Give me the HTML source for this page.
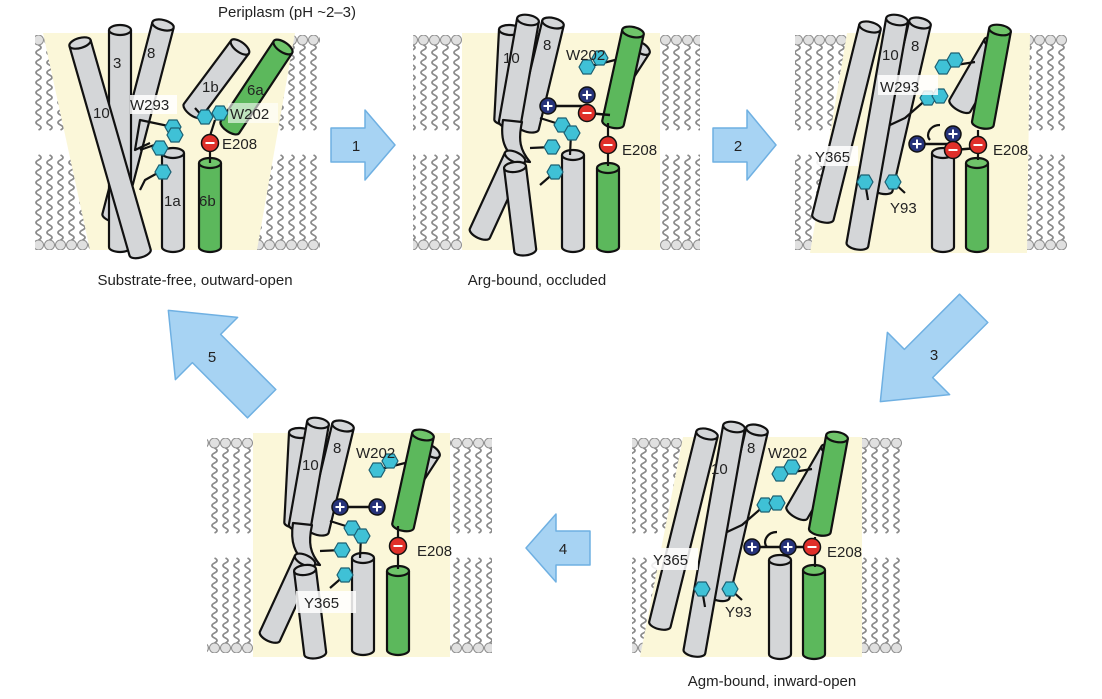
<!DOCTYPE html>
<html><head><meta charset="utf-8"><style>
html,body{margin:0;padding:0;background:#fff}
svg{display:block}
text{font-family:"Liberation Sans",sans-serif;fill:#222}
</style></head><body>
<svg width="1102" height="699" viewBox="0 0 1102 699" xmlns="http://www.w3.org/2000/svg">
<defs>
<g id="lipT"><circle cx="5.5" cy="5" r="5" fill="#e0e0e0" stroke="#8f8f8f"/><path d="M5.5,10 q5,2.5 0,5 t0,5 t0,5 t0,5 t0,5 t0,5 t0,5 t0,5 t0,5 t0,5 t0,5 t0,5 t0,5 t0,5 t0,5 t0,5 t0,5" fill="none" stroke="#8a8a8a" stroke-width="1.8"/></g>
<g id="lipB"><circle cx="5.5" cy="95" r="5" fill="#e0e0e0" stroke="#8f8f8f"/><path d="M5.5,90 q5,-2.5 0,-5 t0,-5 t0,-5 t0,-5 t0,-5 t0,-5 t0,-5 t0,-5 t0,-5 t0,-5 t0,-5 t0,-5 t0,-5 t0,-5 t0,-5 t0,-5 t0,-5" fill="none" stroke="#8a8a8a" stroke-width="1.8"/></g>
<pattern id="ltA" patternUnits="userSpaceOnUse" x="0" y="35" width="11" height="100"><use href="#lipT"/></pattern>
<pattern id="lbA" patternUnits="userSpaceOnUse" x="0" y="150" width="11" height="100"><use href="#lipB"/></pattern>
<pattern id="ltB" patternUnits="userSpaceOnUse" x="0" y="438" width="11" height="100"><use href="#lipT"/></pattern>
<pattern id="lbB" patternUnits="userSpaceOnUse" x="0" y="553" width="11" height="100"><use href="#lipB"/></pattern>
<polygon id="hx" points="8,0 4,7 -4,7 -8,0 -4,-7 4,-7" fill="#3fc1d6" stroke="#1b5f72" stroke-width="1.2"/>
<g id="pl"><circle r="8" fill="#26337a" stroke="#111" stroke-width="1.5"/><path d="M-4.5,0H4.5M0,-4.5V4.5" stroke="#fff" stroke-width="2"/></g>
<g id="mi"><circle r="8.5" fill="#e0302a" stroke="#111" stroke-width="1.5"/><path d="M-4.5,0H4.5" stroke="#fff" stroke-width="2"/></g>
<g id="cyl2" stroke="#111" stroke-width="2.2" stroke-linejoin="round">
 <g transform="translate(641,48) rotate(33)"><path d="M-10,0V35A10,5 0 0 0 10,35V0" fill="#d4d6d8"/><ellipse rx="10" ry="5" fill="#d4d6d8"/></g>
 <g transform="translate(510,30) rotate(3)"><path d="M-11,0V90A11,5 0 0 0 11,90V0" fill="#d4d6d8"/><ellipse rx="11" ry="5" fill="#d4d6d8"/></g>
 <g transform="translate(553,23) rotate(13.5)"><path d="M-11,0V107A11,5 0 0 0 11,107V0" fill="#d4d6d8"/><ellipse rx="11" ry="5" fill="#d4d6d8"/></g>
 <g transform="translate(528,20) rotate(10)"><path d="M-11,0V105A11,5 0 0 0 11,105V0" fill="#d4d6d8"/><ellipse rx="11" ry="5" fill="#d4d6d8"/></g>
 <path d="M503,120 C500,140 505,150 515,160 L530,162 C520,150 518,140 522,122Z" fill="#d4d6d8"/>
 <g transform="translate(515,157) rotate(24.7)"><path d="M-11,0V84A11,5 0 0 0 11,84V0" fill="#d4d6d8"/><ellipse rx="11" ry="5" fill="#d4d6d8"/></g>
 <g transform="translate(515,167) rotate(-7)"><path d="M-11,0V84A11,5 0 0 0 11,84V0" fill="#d4d6d8"/><ellipse rx="11" ry="5" fill="#d4d6d8"/></g>
 <g transform="translate(633,32) rotate(12.4)"><path d="M-11,0V93A11,5 0 0 0 11,93V0" fill="#5cb85c"/><ellipse rx="11" ry="5" fill="#6fc46a"/></g>
 <g transform="translate(573,155)"><path d="M-11,0V92A11,5 0 0 0 11,92V0" fill="#d4d6d8"/><ellipse rx="11" ry="5" fill="#d4d6d8"/></g>
 <g transform="translate(608,168)"><path d="M-11,0V79A11,5 0 0 0 11,79V0" fill="#5cb85c"/><ellipse rx="11" ry="5" fill="#6fc46a"/></g>
 <path d="M608,146V166M608,137V123M552,147 L530,148 M555,172 L540,185 M562,125 L540,118 M587,67 L615,60 M571,133 L570,155" fill="none"/>
 <use href="#hx" x="587" y="67"/><use href="#hx" x="600" y="58"/><use href="#hx" x="562" y="125"/><use href="#hx" x="572" y="133"/><use href="#hx" x="552" y="147"/><use href="#hx" x="555" y="172"/>
</g>
<g id="cyl3" stroke="#111" stroke-width="2.2" stroke-linejoin="round">
 <g transform="translate(870,27) rotate(13.9)"><path d="M-11,0V196A11,5 0 0 0 11,196V0" fill="#d4d6d8"/><ellipse rx="11" ry="5" fill="#d4d6d8"/></g>
 <g transform="translate(920,23) rotate(13)"><path d="M-11,0V170A11,5 0 0 0 11,170V0" fill="#d4d6d8"/><ellipse rx="11" ry="5" fill="#d4d6d8"/></g>
 <g transform="translate(897,20) rotate(10)"><path d="M-11,0V228A11,5 0 0 0 11,228V0" fill="#d4d6d8"/><ellipse rx="11" ry="5" fill="#d4d6d8"/></g>
 <g transform="translate(995,45) rotate(30)"><path d="M-12,0V70A12,5 0 0 0 12,70V0" fill="#d4d6d8"/><ellipse rx="12" ry="5" fill="#d4d6d8"/></g>
 <g transform="translate(1000,30) rotate(10.4)"><path d="M-11,0V95A11,5 0 0 0 11,95V0" fill="#5cb85c"/><ellipse rx="11" ry="5" fill="#6fc46a"/></g>
 <g transform="translate(943,153)"><path d="M-11,0V94A11,5 0 0 0 11,94V0" fill="#d4d6d8"/><ellipse rx="11" ry="5" fill="#d4d6d8"/></g>
 <g transform="translate(977,163)"><path d="M-11,0V84A11,5 0 0 0 11,84V0" fill="#5cb85c"/><ellipse rx="11" ry="5" fill="#6fc46a"/></g>
 <path d="M943,67 L975,62 M928,98 L905,118 L890,125 M865,182 L868,200 M893,182 L905,193 M940,125 C930,125 925,135 930,140 M978,130V160" fill="none"/>
 <use href="#hx" x="943" y="67"/><use href="#hx" x="955" y="60"/><use href="#hx" x="928" y="98"/><use href="#hx" x="940" y="96"/><use href="#hx" x="865" y="182"/><use href="#hx" x="893" y="182"/>
</g>
</defs>

<!-- Panel 1 -->
<rect x="35" y="35" width="285" height="100" fill="url(#ltA)"/>
<rect x="35" y="150" width="285" height="100" fill="url(#lbA)"/>
<polygon points="43,33 295,33 257,250 90,250" fill="#fbf7d9"/>
<g stroke="#111" stroke-width="2.2" stroke-linejoin="round">
 <g transform="translate(163,25) rotate(14.6)"><path d="M-11,0V198A11,5 0 0 0 11,198V0" fill="#d4d6d8"/><ellipse rx="11" ry="5" fill="#d4d6d8"/></g>
 <g transform="translate(120,30)"><path d="M-11,0V217A11,5 0 0 0 11,217V0" fill="#d4d6d8"/><ellipse rx="11" ry="5" fill="#d4d6d8"/></g>
 <g transform="translate(80,43) rotate(-16)"><path d="M-11,0V218A11,5 0 0 0 11,218V0" fill="#d4d6d8"/><ellipse rx="11" ry="5" fill="#d4d6d8"/></g>
 <g transform="translate(240,47) rotate(36.7)"><path d="M-11,0V79A11,5 0 0 0 11,79V0" fill="#d4d6d8"/><ellipse rx="11" ry="5" fill="#d4d6d8"/></g>
 <g transform="translate(283,47) rotate(33.5)"><path d="M-11,0V96A11,5 0 0 0 11,96V0" fill="#5cb85c"/><ellipse rx="11" ry="5" fill="#6fc46a"/></g>
 <g transform="translate(173,153)"><path d="M-11,0V94A11,5 0 0 0 11,94V0" fill="#d4d6d8"/><ellipse rx="11" ry="5" fill="#d4d6d8"/></g>
 <g transform="translate(210,163)"><path d="M-11,0V84A11,5 0 0 0 11,84V0" fill="#5cb85c"/><ellipse rx="11" ry="5" fill="#6fc46a"/></g>
 <path d="M173,127 L140,120 L135,150 L150,143 M160,143 L140,150 M163,170 L145,180 L140,190 M210,150V163 M210,136 L215,120 M203,117 L195,108" fill="none"/>
</g>
<use href="#hx" x="173" y="127"/><use href="#hx" x="175" y="135"/><use href="#hx" x="160" y="148"/><use href="#hx" x="163" y="172"/><use href="#hx" x="205" y="117"/><use href="#hx" x="220" y="113"/>
<use href="#mi" x="210" y="143"/>
<rect x="130" y="95" width="47" height="19" fill="#fff" opacity="0.85"/>
<rect x="228" y="103" width="50" height="20" fill="#fff" opacity="0.6"/>
<g font-size="15">
<text x="287" y="17" text-anchor="middle" font-size="15">Periplasm (pH ~2–3)</text>
<text x="113" y="68">3</text><text x="147" y="58">8</text><text x="93" y="118">10</text>
<text x="202" y="92">1b</text><text x="247" y="95">6a</text>
<text x="130" y="110">W293</text><text x="230" y="119">W202</text><text x="222" y="149">E208</text>
<text x="164" y="206">1a</text><text x="199" y="206">6b</text>
<text x="195" y="285" text-anchor="middle">Substrate-free, outward-open</text>
</g>

<!-- Panel 2 -->
<rect x="413" y="35" width="50" height="100" fill="url(#ltA)"/>
<rect x="413" y="150" width="50" height="100" fill="url(#lbA)"/>
<rect x="658" y="35" width="42" height="100" fill="url(#ltA)"/>
<rect x="658" y="150" width="42" height="100" fill="url(#lbA)"/>
<rect x="462" y="33" width="198" height="217" fill="#fbf7d9"/>
<use href="#cyl2"/>
<path d="M548,106H587M587,113 L610,115" stroke="#111" stroke-width="2.5"/>
<use href="#pl" x="548" y="106"/><use href="#pl" x="587" y="95"/><use href="#mi" x="587" y="113"/><use href="#mi" x="608" y="145"/>
<g font-size="15"><text x="503" y="63">10</text><text x="543" y="50">8</text><text x="566" y="60">W202</text><text x="622" y="155">E208</text>
<text x="537" y="285" text-anchor="middle">Arg-bound, occluded</text></g>

<!-- Panel 3 -->
<rect x="795" y="35" width="55" height="100" fill="url(#ltA)"/>
<rect x="795" y="150" width="55" height="100" fill="url(#lbA)"/>
<rect x="1027" y="35" width="40" height="100" fill="url(#ltA)"/>
<rect x="1027" y="150" width="40" height="100" fill="url(#lbA)"/>
<polygon points="847,33 1030,33 1027,253 810,253" fill="#fbf7d9"/>
<use href="#cyl3"/>
<path d="M917,144H953M953,150 L978,148" stroke="#111" stroke-width="2.5"/>
<use href="#pl" x="917" y="144"/><use href="#pl" x="953" y="134"/><use href="#mi" x="953" y="150"/><use href="#mi" x="978" y="145"/>
<rect x="878" y="75" width="60" height="20" fill="#fff" opacity="0.85"/>
<rect x="812" y="146" width="46" height="20" fill="#fff" opacity="0.85"/>
<g font-size="15"><text x="882" y="60">10</text><text x="911" y="51">8</text><text x="880" y="92">W293</text>
<text x="815" y="162">Y365</text><text x="890" y="213">Y93</text><text x="993" y="155">E208</text></g>

<!-- Panel 4 -->
<rect x="207" y="438" width="46" height="100" fill="url(#ltB)"/>
<rect x="207" y="553" width="46" height="100" fill="url(#lbB)"/>
<rect x="448" y="438" width="44" height="100" fill="url(#ltB)"/>
<rect x="448" y="553" width="44" height="100" fill="url(#lbB)"/>
<rect x="253" y="433" width="197" height="224" fill="#fbf7d9"/>
<use href="#cyl2" transform="translate(-210,403)"/>
<path d="M340,507H377" stroke="#111" stroke-width="2.5"/>
<use href="#pl" x="340" y="507"/><use href="#pl" x="377" y="507"/><use href="#mi" x="398" y="546"/>
<rect x="296" y="591" width="60" height="22" fill="#fff" opacity="0.85"/>
<g font-size="15"><text x="302" y="470">10</text><text x="333" y="453">8</text><text x="356" y="458">W202</text>
<text x="417" y="556">E208</text><text x="304" y="608">Y365</text></g>

<!-- Panel 5 -->
<rect x="632" y="438" width="55" height="100" fill="url(#ltB)"/>
<rect x="632" y="553" width="55" height="100" fill="url(#lbB)"/>
<rect x="862" y="438" width="40" height="100" fill="url(#ltB)"/>
<rect x="862" y="553" width="40" height="100" fill="url(#lbB)"/>
<polygon points="683,437 862,437 862,657 640,657" fill="#fbf7d9"/>
<use href="#cyl3" transform="translate(-163,407)"/>
<path d="M752,547H810" stroke="#111" stroke-width="2.5"/>
<use href="#pl" x="752" y="547"/><use href="#pl" x="788" y="547"/><use href="#mi" x="812" y="547"/>
<rect x="650" y="548" width="48" height="22" fill="#fff" opacity="0.85"/>
<g font-size="15"><text x="711" y="474">10</text><text x="747" y="453">8</text><text x="768" y="458">W202</text>
<text x="653" y="565">Y365</text><text x="725" y="617">Y93</text><text x="827" y="557">E208</text>
<text x="772" y="686" text-anchor="middle">Agm-bound, inward-open</text></g>

<!-- Arrows -->
<g fill="#a7d3f3" stroke="#6fb0e2" stroke-width="1.5" stroke-linejoin="round">
 <polygon points="331,128 365,128 365,110 395,145 365,180 365,162 331,162"/>
 <polygon points="713,128 747,128 747,110 776,145 747,180 747,162 713,162"/>
 <polygon points="590,531 556,531 556,514 526,548 556,582 556,565 590,565"/>
 <g transform="translate(927,355) rotate(135)"><polygon points="-66,-20 12,-20 12,-44 66,0 12,44 12,20 -66,20"/></g>
 <g transform="translate(215,357) rotate(-135)"><polygon points="-66,-20 12,-20 12,-44 66,0 12,44 12,20 -66,20"/></g>
</g>
<g font-size="15" text-anchor="middle"><text x="356" y="151">1</text><text x="738" y="151">2</text><text x="934" y="360">3</text><text x="563" y="554">4</text><text x="212" y="362">5</text></g>
</svg>
</body></html>
